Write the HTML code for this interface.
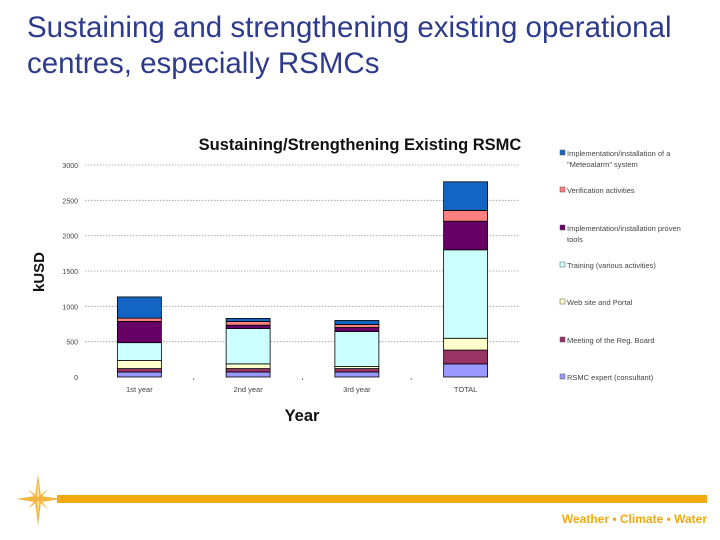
<!DOCTYPE html>
<html><head><meta charset="utf-8"><style>
body{margin:0;width:720px;height:540px;background:#fff;overflow:hidden;position:relative;font-family:"Liberation Sans",sans-serif}
#title{position:absolute;left:27px;top:10px;font-size:29.5px;line-height:36px;color:#2e3a8c;white-space:nowrap}
#footer-bar{position:absolute;left:57px;top:495px;width:650px;height:8px;background:#f2a910}
#tagline{position:absolute;right:13px;top:512px;font-size:12px;font-weight:bold;color:#f2a910}
</style></head><body>
<div id="title">Sustaining and strengthening existing operational<br>centres, especially RSMCs</div>
<div id="footer-bar"></div>
<div id="tagline">Weather • Climate • Water</div>
<svg style="position:absolute;left:12px;top:472px" width="52" height="56" viewBox="0 0 52 56">
<polygon points="26,2 29,24 50,27 29,30 26,54 23,30 4,27 23,24" fill="#f2b640"/>
<polygon points="26,10 27.5,26 26,44 24.5,26" fill="#fff" opacity="0.6"/>
<polygon points="16,17 27,26 36,37 25,28" fill="#f2b640"/>
<polygon points="36,17 27,28 16,37 25,26" fill="#f2b640"/>
</svg>
<svg id="chart" width="720" height="540" style="position:absolute;left:0;top:0"></svg>
<script>
const categories=["1st year","2nd year","3rd year","TOTAL"];
const expert=[71,71,71,186];
const meeting=[48,48,48,195];
const website=[114,67,29,167];
const training=[253,500,495,1252];
const tools=[300,47,57,405];
const verification=[47,53,43,152];
const meteoalarm=[300,43,57,405];
const yTicks=[0,500,1000,1500,2000,2500,3000];
const series=[expert,meeting,website,training,tools,verification,meteoalarm];
const colors=["#9999ff","#993366","#ffffcc","#ccffff","#660066","#ff8080","#1464c4"];
const NS="http://www.w3.org/2000/svg";
const svg=document.getElementById('chart');
const X0=85,X1=520,Y0=377,YT=165,YMAX=3000;
const y=v=>Y0-(v/YMAX)*(Y0-YT);
const bandW=(X1-X0)/categories.length;
const x=i=>X0+bandW*(i+0.5);
function mk(tag,attrs){const e=document.createElementNS(NS,tag);for(const k in attrs)e.setAttribute(k,attrs[k]);svg.appendChild(e);return e;}
yTicks.forEach(t=>{
  if(t>0){const g=mk('line',{x1:X0,x2:X1,y1:y(t),y2:y(t),stroke:'#999','stroke-width':0.8,'stroke-dasharray':'1.5,1.5'});
  
  }
  const tx=mk('text',{x:78,y:y(t)+3,'font-size':7,fill:'#444','text-anchor':'end'});
  tx.textContent=t;
  
  
});
for(let i=1;i<categories.length;i++){
  const tk=mk('line',{x1:X0+bandW*i,x2:X0+bandW*i,y1:Y0+1,y2:Y0+3,stroke:'#666','stroke-width':0.8});
  
  
}
categories.forEach((c,i)=>{
  let acc=0;
  series.forEach((s,j)=>{
    const v=s[i];
    const r=mk('rect',{x:x(i)-22,y:y(acc+v),width:44,height:y(acc)-y(acc+v),fill:colors[j],stroke:'#000','stroke-width':0.8});
    
    
    acc+=v;
  });
  const t=mk('text',{x:x(i),y:392,'font-size':7.5,fill:'#444','text-anchor':'middle'});
  t.textContent=c;
  
  
});
const tt=mk('text',{x:360,y:150,'font-size':16.5,'font-weight':'bold',fill:'#111','text-anchor':'middle'});
tt.textContent="Sustaining/Strengthening Existing RSMC";


const yt=mk('text',{x:0,y:0,'font-size':15,'font-weight':'bold',fill:'#111','text-anchor':'middle',transform:'translate(44,272) rotate(-90)'});
yt.textContent="kUSD";


const xt=mk('text',{x:302,y:421,'font-size':16.5,'font-weight':'bold',fill:'#111','text-anchor':'middle'});
xt.textContent="Year";


const legY=[153,190,228,265,302,340,377];
const legLines=[["Implementation/installation of a","\"Meteoalarm\" system"],["Verification activities"],["Implementation/installation proven","tools"],["Training (various activities)"],["Web site and Portal"],["Meeting of the Reg. Board"],["RSMC expert (consultant)"]];
const legCols=[colors[6],colors[5],colors[4],colors[3],colors[2],colors[1],colors[0]];
legY.forEach((ly,k)=>{
  const sq=mk('rect',{x:560,y:ly-3,width:5,height:5,fill:legCols[k],stroke:'#555','stroke-width':0.5});
  
  
  legLines[k].forEach((ln,m)=>{
    const t=mk('text',{x:567,y:ly+3+m*11,'font-size':7.5,fill:'#444'});
    t.textContent=ln;
    
    
  });
});
</script>
</body></html>
